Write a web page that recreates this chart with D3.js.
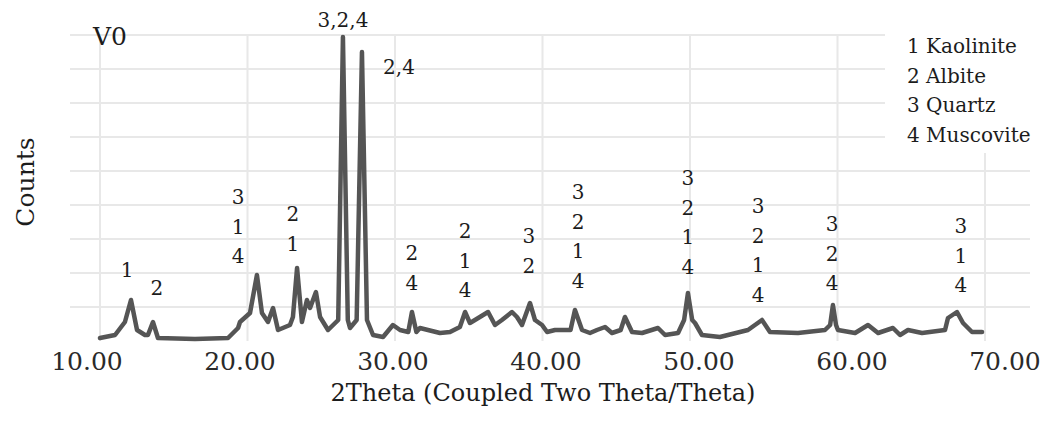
<!DOCTYPE html>
<html>
<head>
  <meta charset="UTF-8">
  <title>XRD pattern V0</title>
  <script src="https://d3js.org/d3.v7.min.js"></script>
  <style>
    body { margin: 0; background: #fff; }
    svg text { font-family: "DejaVu Serif", "Liberation Serif", "Times New Roman", serif; }
  </style>
</head>
<body>
<svg id="chart" width="1047" height="423" fill="#1c1c1c"></svg>
<script>
// diffraction trace
const twoTheta = [10.00, 11.02, 11.69, 12.10, 12.51, 13.05, 13.25, 13.59, 13.93, 16.44,
  18.68, 19.36, 19.49, 20.17, 20.64, 20.98, 21.39, 21.73, 22.07, 22.88,
  23.08, 23.36, 23.69, 24.03, 24.24, 24.64, 24.92, 25.46, 26.15, 26.47,
  26.80, 26.95, 27.40, 27.76, 28.10, 28.51, 29.19, 29.86, 30.34, 30.90,
  31.15, 31.45, 31.69, 33.05, 33.73, 34.40, 34.75, 35.08, 35.42, 36.31,
  36.78, 37.25, 37.93, 38.27, 38.61, 39.15, 39.49, 39.97, 40.31, 40.85,
  41.90, 42.20, 42.68, 43.22, 43.69, 44.24, 44.71, 45.30, 45.59, 46.07,
  46.75, 47.83, 48.31, 49.19, 49.60, 49.86, 50.15, 50.34, 50.81, 52.03,
  53.93, 54.88, 55.42, 57.32, 59.15, 59.50, 59.69, 59.90, 60.03, 61.19,
  62.07, 62.75, 63.76, 64.24, 64.78, 65.73, 67.29, 67.49, 68.10, 68.51,
  69.12, 69.80];
const counts = [30, 60, 190, 410, 110, 60, 60, 190, 30, 20,
  30, 130, 190, 280, 660, 280, 190, 330, 110, 160,
  240, 730, 190, 410, 330, 490, 240, 110, 210, 3040,
  210, 130, 210, 2890, 210, 60, 40, 160, 110, 90,
  290, 90, 130, 80, 90, 140, 290, 180, 210, 290,
  160, 210, 290, 240, 160, 380, 210, 160, 90, 110,
  110, 310, 110, 80, 110, 140, 80, 110, 240, 90,
  80, 130, 60, 80, 210, 480, 210, 180, 60, 40,
  110, 210, 90, 80, 110, 160, 360, 160, 110, 80,
  160, 80, 130, 60, 110, 80, 110, 230, 290, 180,
  90, 90];

const xTicks = [10, 20, 30, 40, 50, 60, 70];

// phase labels above the peaks
const peakTheta = [11.83, 13.86, 19.36, 23.08, 26.47, 30.27, 31.15, 34.75, 39.08, 42.41, 49.86, 54.61, 59.63, 68.37];
const peakTop = [710, 530, 1440, 1270, 3210, 2740, 880, 1100, 1050, 1490, 1630, 1350, 1170, 1150];
const peakText = [["1"], ["2"], ["3", "1", "4"], ["2", "1"], ["3,2,4"], ["2,4"], ["2", "4"], ["2", "1", "4"],
  ["3", "2"], ["3", "2", "1", "4"], ["3", "2", "1", "4"], ["3", "2", "1", "4"], ["3", "2", "4"], ["3", "1", "4"]];

const legendItems = ["1 Kaolinite", "2 Albite", "3 Quartz", "4 Muscovite"];

const svg = d3.select("#chart");

const x = d3.scaleLinear([10, 70], [100, 985]);
const xLabel = d3.scaleLinear([10, 70], [87, 1005]);
const y = d3.scaleLinear([0, 3060], [341, 35]);

// faint grid
const grid = svg.append("g").attr("stroke", "#e8e8e8").attr("stroke-width", 2);
grid.selectAll("line.h").data(d3.range(340, 3061, 340))
  .join("line").attr("class", "h")
  .attr("x1", 70).attr("x2", 1030)
  .attr("y1", d => y(d)).attr("y2", d => y(d));
grid.selectAll("line.v").data(xTicks)
  .join("line").attr("class", "v")
  .attr("x1", d => x(d)).attr("x2", d => x(d))
  .attr("y1", y(3060)).attr("y2", y(0));

// legend box hides grid behind it
svg.append("rect").attr("x", 885).attr("y", 18).attr("width", 160).attr("height", 135).attr("fill", "#fff");

const pts = twoTheta.map((t, i) => [t, counts[i]]);
svg.append("path")
  .datum(pts)
  .attr("fill", "none")
  .attr("stroke", "#555")
  .attr("stroke-width", 4.5)
  .attr("stroke-linejoin", "round")
  .attr("stroke-linecap", "round")
  .attr("d", d3.line().x(d => x(d[0])).y(d => y(d[1])));

// peak labels
const labels = svg.append("g").attr("font-size", 20).attr("text-anchor", "middle");
peakTheta.forEach((t, i) => {
  peakText[i].forEach((s, j) => {
    labels.append("text")
      .attr("x", x(t))
      .attr("y", y(peakTop[i]) + j * 29.5 + 7)
      .text(s);
  });
});

// x tick labels
svg.append("g").selectAll("text").data(xTicks)
  .join("text")
  .attr("x", d => xLabel(d))
  .attr("y", 370)
  .attr("text-anchor", "middle")
  .attr("font-size", 25)
  .attr("fill", "#2a2a2a")
  .text(d => d3.format(".2f")(d));

svg.append("text")
  .attr("x", 543).attr("y", 401)
  .attr("text-anchor", "middle")
  .attr("font-size", 24)
  .text("2Theta (Coupled Two Theta/Theta)");

svg.append("text")
  .attr("transform", "translate(34,182) rotate(-90)")
  .attr("text-anchor", "middle")
  .attr("font-size", 25)
  .text("Counts");

svg.append("text")
  .attr("x", 93).attr("y", 45)
  .attr("font-size", 25)
  .text("V0");

svg.append("g").selectAll("text").data(legendItems)
  .join("text")
  .attr("x", 907)
  .attr("y", (d, i) => 53 + i * 29.7)
  .attr("font-size", 20)
  .text(d => d);
</script>
</body>
</html>
